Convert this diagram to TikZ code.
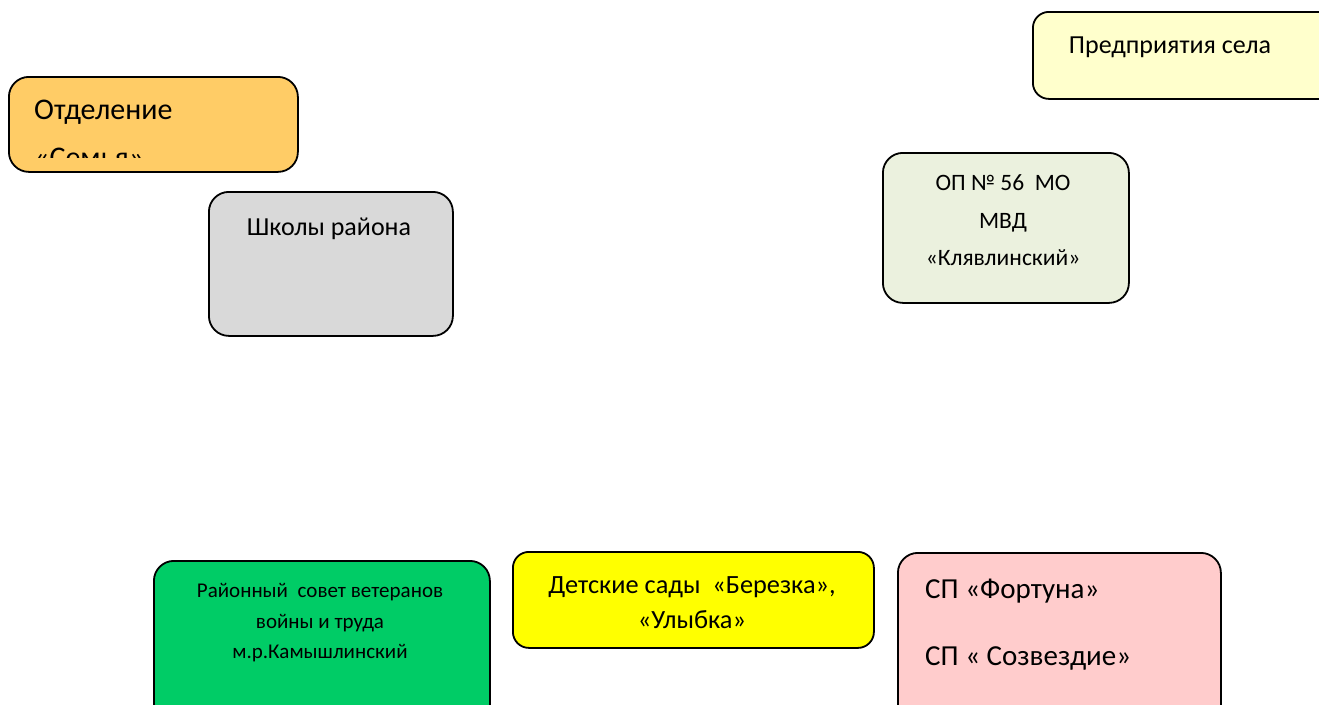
\documentclass[tikz,border=0pt]{standalone}
\usepackage{fontspec}
\setmainfont{Carlito}
\begin{document}
\begin{tikzpicture}[x=1pt,y=-1pt,
  box/.style={draw=black,line width=1.8pt,rounded corners=20pt,rectangle,inner sep=0pt,anchor=north west},
  txt/.style={inner sep=0pt,text=black}]
\useasboundingbox (0,0) rectangle (1319,704);
\clip (0,0) rectangle (1319,704);
\definecolor{corange}{HTML}{FFCC66}
\definecolor{cpale}{HTML}{FFFFCC}
\definecolor{cop}{HTML}{EBF1DE}
\definecolor{cgray}{HTML}{D9D9D9}
\definecolor{cgreen}{HTML}{00CC66}
\definecolor{cyellow}{HTML}{FFFF00}
\definecolor{cpink}{HTML}{FFCCCC}
% boxes
\node[box,fill=corange,minimum width=289pt,minimum height=95pt] (fam) at (8,76) {};
\node[box,fill=cpale,rounded corners=16pt,minimum width=313pt,minimum height=87pt] (ent) at (1032,11) {};
\node[box,fill=cop,minimum width=246pt,minimum height=150pt] (op) at (882,152) {};
\node[box,fill=cgray,minimum width=244pt,minimum height=144pt] (sch) at (208,191) {};
\node[box,fill=cgreen,minimum width=336pt,minimum height=170pt] (vet) at (153,560) {};
\node[box,fill=cyellow,rounded corners=16pt,minimum width=361pt,minimum height=96pt] (kg) at (512,551) {};
\node[box,fill=cpink,minimum width=323pt,minimum height=178pt] (sp) at (897,552) {};
% texts
\begin{scope}
\clip (8,76) rectangle (297,157);
\node[txt,anchor=base west,font=\fontsize{30}{36}\selectfont] (famA) at (34,119) {Отделение};
\node[txt,anchor=base west,font=\fontsize{30}{36}\selectfont] (famB) at (34,167) {«Семья»};
\end{scope}
\node[txt,anchor=base,font=\fontsize{26}{30}\selectfont] (entA) at (1170,53) {Предприятия села};
\node[txt,anchor=base,font=\fontsize{23.5}{28}\selectfont] (opA) at (1003,190) {ОП № 56\ \ МО};
\node[txt,anchor=base,font=\fontsize{23.5}{28}\selectfont] (opB) at (1003,228) {МВД};
\node[txt,anchor=base,font=\fontsize{23.5}{28}\selectfont] (opC) at (1003,265) {«Клявлинский»};
\node[txt,anchor=base,font=\fontsize{26}{30}\selectfont] (schA) at (329,235) {Школы района};
\node[txt,anchor=base,font=\fontsize{21}{25}\selectfont] (vetA) at (320,597) {Районный\ \ совет ветеранов};
\node[txt,anchor=base,font=\fontsize{21}{25}\selectfont] (vetB) at (320,628) {войны и труда};
\node[txt,anchor=base,font=\fontsize{21}{25}\selectfont] (vetC) at (320,658) {м.р.Камышлинский};
\node[txt,anchor=base,font=\fontsize{26.3}{30}\selectfont] (kgA) at (692,593) {Детские сады\ \ «Березка»,};
\node[txt,anchor=base,font=\fontsize{26.3}{30}\selectfont] (kgB) at (692,628) {«Улыбка»};
\node[txt,anchor=base west,font=\fontsize{29}{34}\selectfont] (spA) at (925,598) {СП «Фортуна»};
\node[txt,anchor=base west,font=\fontsize{29}{34}\selectfont] (spB) at (925,665) {СП « Созвездие»};
\end{tikzpicture}
\end{document}
